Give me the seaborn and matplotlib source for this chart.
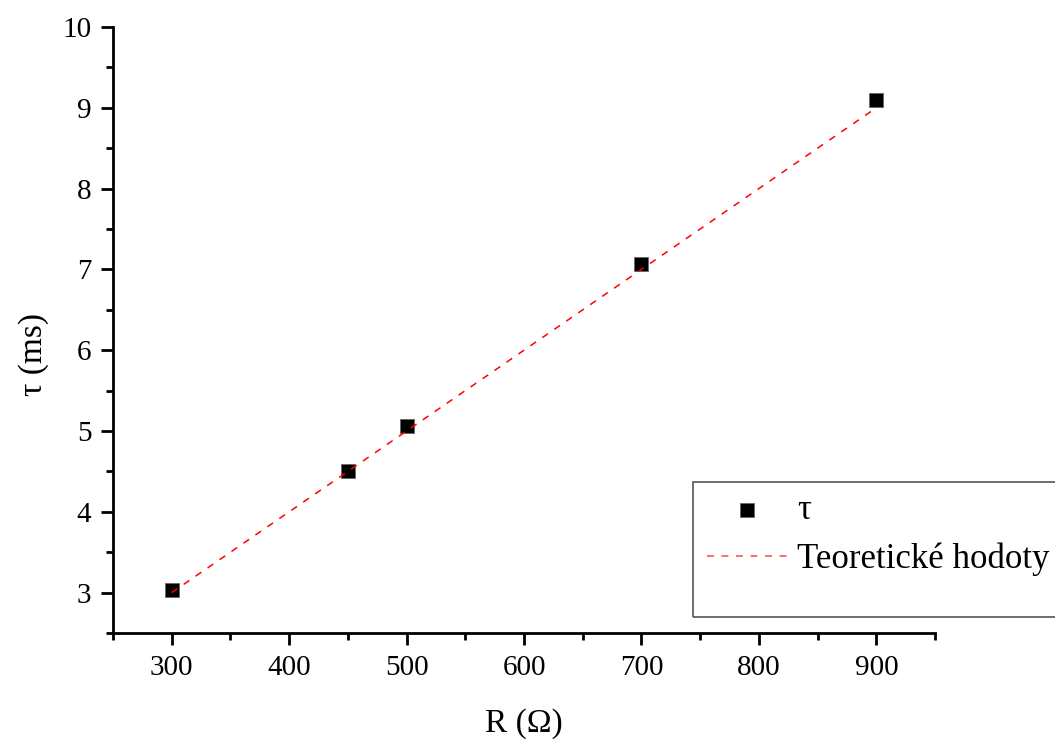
import matplotlib
matplotlib.use("Agg")
import matplotlib.pyplot as plt
import seaborn as sns
import pandas as pd
from matplotlib.ticker import MultipleLocator
from matplotlib.patches import Rectangle

# ── Data ─────────────────────────────────────────────────────
R_meas = [300, 450, 500, 700, 900]
tau_meas = [3.03, 4.51, 5.06, 7.07, 9.10]

R_theo = [300, 900]
tau_theo = [3.0, 9.0]

meas = pd.DataFrame({"R": R_meas, "tau": tau_meas})
theo = pd.DataFrame({"R": R_theo, "tau": tau_theo})

sns.set_theme(style="ticks")
plt.rcParams["font.family"] = ["Liberation Serif", "DejaVu Serif"]
plt.rcParams["text.color"] = "black"
plt.rcParams["axes.labelcolor"] = "black"

fig = plt.figure(figsize=(10.55, 7.45), dpi=100)
ax = fig.add_axes([0.1071, 0.1503, 0.7792, 0.8135])

sns.lineplot(data=theo, x="R", y="tau", ax=ax, color="red", linestyle="--",
             linewidth=1.1, label="Teoretické hodoty", zorder=3)
ax.lines[0].set_dashes([4.5, 5])
sns.scatterplot(data=meas, x="R", y="tau", ax=ax, marker="s", color="black",
                s=100, edgecolor="#666666", linewidth=0.6, label="τ", zorder=2)

ax.set_xlim(250, 950)
ax.set_ylim(2.5, 10)
ax.xaxis.set_major_locator(MultipleLocator(100))
ax.xaxis.set_minor_locator(MultipleLocator(50))
ax.yaxis.set_major_locator(MultipleLocator(1))
ax.yaxis.set_minor_locator(MultipleLocator(0.5))
ax.set_xticks(range(300, 1000, 100))
ax.set_xticklabels([str(v) for v in range(300, 1000, 100)])

for s in ["top", "right"]:
    ax.spines[s].set_visible(False)
for s in ["left", "bottom"]:
    ax.spines[s].set_linewidth(2)
    ax.spines[s].set_color("black")

ax.tick_params(axis="both", which="major", length=8.5, width=2, labelsize=21,
               colors="black", pad=7)
ax.tick_params(axis="both", which="minor", length=5, width=2, colors="black")

ax.set_xlabel("R (Ω)", fontsize=24, va="center", color="black")
ax.set_ylabel("τ (ms)", fontsize=24, va="center", color="black")
ax.xaxis.set_label_coords(0.5, -0.150)
ax.yaxis.set_label_coords(-0.097, 0.459)

# legend box (runs off the right edge like the original)
fig.patches.append(Rectangle((0.657, 0.172), 0.5, 0.181, transform=fig.transFigure,
                             fill=False, edgecolor="#555555", linewidth=1.2))

handles, labels = ax.get_legend_handles_labels()
order = [labels.index("τ"), labels.index("Teoretické hodoty")]
leg = ax.legend([handles[i] for i in order], [labels[i] for i in order],
                loc="upper left", bbox_to_anchor=(0.670, 0.337),
                bbox_transform=fig.transFigure, fontsize=25, frameon=False,
                borderpad=0, handlelength=2.3, handletextpad=0.3,
                labelspacing=0.45, borderaxespad=0)
for t in leg.get_texts():
    t.set_color("black")
leg.get_lines()[0].set_color("#ff4444") if len(leg.get_lines()) else None

fig.savefig("out.png", dpi=100)
